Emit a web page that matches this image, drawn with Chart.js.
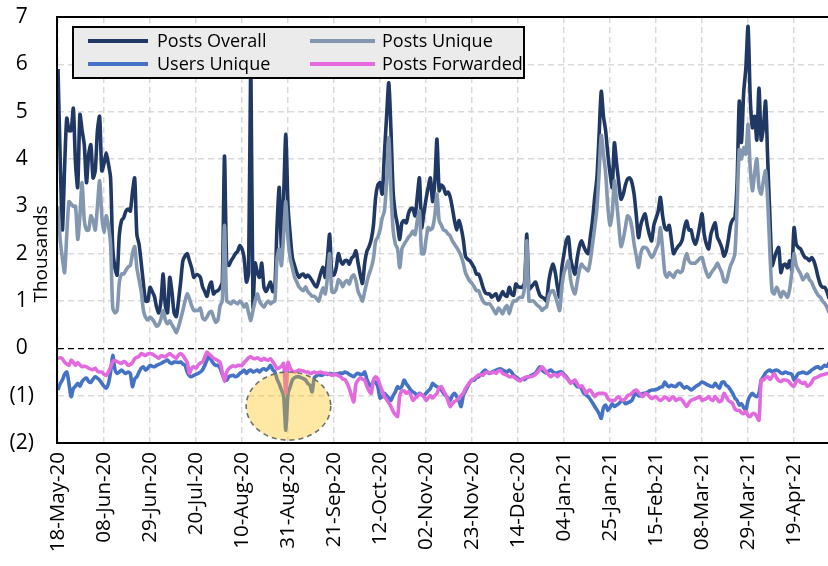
<!DOCTYPE html>
<html>
<head>
<meta charset="utf-8">
<script src="https://cdn.jsdelivr.net/npm/chart.js@4.4.1/dist/chart.umd.min.js"></script>
<style>
html,body{margin:0;padding:0;background:#fff;}
canvas{display:block;}
</style>
</head>
<body>
<canvas id="c" width="828" height="566"></canvas>
<script>
// ---- data (daily values, day 0 = 18-May-20), in thousands ----
const tickDays = [0,21,42,63,84,105,126,147,168,189,210,231,252,273,294,315,336];
const tickLabels = ['18-May-20','08-Jun-20','29-Jun-20','20-Jul-20','10-Aug-20','31-Aug-20','21-Sep-20','12-Oct-20','02-Nov-20','23-Nov-20','14-Dec-20','04-Jan-21','25-Jan-21','15-Feb-21','08-Mar-21','29-Mar-21','19-Apr-21'];
const yTickLabels = ['(2)','(1)','0','1','2','3','4','5','6','7'];
const seriesNames = ['Posts Overall','Posts Unique','Users Unique','Posts Forwarded'];

const postsOverall = [
5.9,4.0,2.5,3.8,4.86,4.6,4.6,5.07,3.9,3.4,
4.94,4.6,4.3,3.5,4.1,4.3,3.6,3.75,4.6,4.9,
3.75,3.9,4.13,3.9,3.6,2.1,1.7,1.55,2.4,2.7,
2.76,2.9,2.94,2.9,3.3,3.6,2.4,2.2,1.8,1.37,
1.0,1.0,1.29,1.2,1.1,0.87,0.75,1.0,1.57,0.9,
0.75,1.5,1.2,0.75,0.67,1.0,1.4,1.85,1.95,2.0,
1.85,1.7,1.5,1.55,1.55,1.5,1.3,1.2,1.1,1.3,
1.4,1.15,1.2,1.22,1.28,1.4,4.06,1.8,1.75,1.85,
1.92,2.0,2.05,2.17,2.1,1.9,1.4,1.6,6.2,0.87,
1.8,1.6,1.5,1.8,1.3,1.2,1.3,1.4,1.2,1.3,
2.6,3.4,2.1,3.2,4.52,3.0,2.4,1.92,1.75,1.6,
1.5,1.55,1.57,1.5,1.55,1.5,1.43,1.35,1.3,1.43,
1.6,1.71,1.5,1.9,2.41,1.55,1.55,1.7,2.0,1.85,
1.78,1.85,1.85,1.78,1.9,1.95,2.06,1.8,1.55,1.37,
1.8,2.05,2.15,2.3,2.6,3.19,3.45,3.5,3.26,4.1,
4.9,5.61,4.6,3.3,2.85,2.6,2.3,2.65,2.7,2.65,
2.85,2.95,2.95,2.8,3.2,3.6,2.55,2.85,3.15,3.4,
3.6,3.1,3.5,4.42,3.33,3.45,3.4,3.26,3.3,3.2,
2.97,2.7,2.5,2.7,2.55,2.3,1.95,1.88,1.85,1.78,
1.7,1.57,1.57,1.45,1.29,1.18,1.15,1.15,1.08,1.12,
1.15,1.02,1.1,1.2,1.12,1.1,1.29,1.15,1.12,1.36,
1.3,1.29,1.29,1.4,2.41,1.25,1.29,1.35,1.4,1.25,
1.12,1.08,1.05,1.0,1.4,1.65,1.78,1.6,1.3,1.08,
1.7,2.0,2.27,2.35,1.9,1.7,1.57,1.9,2.15,2.27,
2.15,2.05,2.0,2.35,2.7,3.19,3.6,4.5,5.43,4.9,
4.6,4.1,3.7,3.4,4.34,3.9,3.5,3.15,3.25,3.45,
3.58,3.6,3.5,3.25,2.8,2.34,2.6,2.75,2.84,2.6,
2.4,2.27,2.6,2.75,2.9,3.19,2.8,2.55,2.5,2.6,
2.3,2.0,2.08,2.15,2.2,2.3,2.55,2.69,2.5,2.5,
2.3,2.2,2.35,2.6,2.84,2.4,2.2,2.1,2.4,2.55,
2.65,2.35,2.25,2.13,1.95,2.05,2.3,2.6,2.72,2.76,
3.5,5.22,4.35,5.4,5.92,6.8,5.3,4.66,4.9,4.4,
5.5,4.4,4.66,5.22,3.96,2.76,1.75,1.9,2.05,2.13,
1.6,1.75,1.78,1.7,1.85,1.65,2.55,2.2,2.13,2.1,
2.0,1.92,1.9,1.85,1.92,1.85,1.7,1.5,1.35,1.29,
1.29,1.2,1.05
];

const postsUnique = [
3.0,2.3,1.9,1.6,2.4,3.1,3.05,3.0,3.0,2.3,
2.8,3.5,2.7,2.5,2.5,2.8,2.7,2.5,3.0,3.54,
2.8,2.45,2.8,2.6,2.2,0.85,0.75,0.8,1.4,1.57,
1.57,1.65,1.72,1.75,2.0,2.15,1.7,1.45,1.2,0.8,
0.65,0.6,0.66,0.62,0.55,0.47,0.5,0.62,0.8,0.6,
0.52,0.58,0.5,0.42,0.33,0.45,0.62,0.8,1.0,1.15,
1.05,0.9,0.8,0.8,0.8,0.85,0.65,0.6,0.66,0.75,
0.78,0.66,0.55,0.6,0.9,1.0,2.6,1.0,0.97,0.94,
1.0,0.97,0.94,1.0,0.95,0.87,0.94,0.75,0.59,0.8,
1.0,1.15,1.0,0.92,0.87,0.95,1.0,0.94,0.98,1.0,
1.9,2.1,1.75,2.4,3.1,2.3,1.9,1.7,1.5,1.4,
1.3,1.25,1.22,1.3,1.2,1.15,1.1,1.1,1.05,1.0,
1.15,1.28,1.15,1.5,2.0,1.2,1.18,1.25,1.45,1.4,
1.3,1.4,1.43,1.36,1.5,1.55,1.43,1.2,1.1,1.0,
1.2,1.4,1.57,1.7,1.9,2.27,2.35,2.5,2.75,2.9,
3.5,4.45,3.3,2.5,2.2,2.1,1.7,2.1,2.2,2.27,
2.35,2.4,2.48,2.4,2.7,2.9,2.0,2.0,2.3,2.55,
2.5,2.55,2.8,3.26,2.7,2.6,2.5,2.48,2.42,2.38,
2.27,2.2,2.13,2.05,1.95,1.8,1.6,1.5,1.42,1.37,
1.3,1.22,1.22,1.1,1.0,0.95,0.94,0.94,0.88,0.8,
0.73,0.85,0.8,0.73,0.85,0.9,0.73,0.9,1.0,1.0,
1.05,1.08,1.08,1.3,2.27,1.0,1.0,1.0,0.95,0.9,
0.87,0.8,0.85,0.87,1.1,1.2,1.22,1.1,0.95,0.8,
1.3,1.6,1.72,1.85,1.45,1.25,1.15,1.4,1.65,1.78,
1.72,1.68,1.64,1.85,2.2,2.55,2.95,3.7,4.5,4.1,
3.7,3.0,2.6,2.84,3.54,3.1,2.6,2.15,2.3,2.55,
2.8,2.75,2.55,2.2,1.95,1.71,2.0,2.13,2.13,2.1,
2.0,1.92,1.98,2.1,2.2,2.55,2.1,1.6,1.5,1.6,
1.55,1.5,1.6,1.64,1.6,1.64,1.85,2.0,1.85,1.8,
1.8,1.8,1.85,1.9,1.92,1.75,1.6,1.5,1.58,1.65,
1.71,1.8,1.7,1.6,1.42,1.4,1.57,1.75,1.85,2.0,
3.0,4.2,4.0,4.24,4.1,4.73,3.8,3.33,3.7,4.0,
3.4,3.26,3.54,3.75,3.1,2.0,1.2,1.15,1.29,1.2,
1.08,1.2,1.15,1.08,1.25,1.6,2.0,1.75,1.65,1.57,
1.45,1.5,1.57,1.45,1.4,1.29,1.2,1.12,1.08,1.0,
0.95,0.87,0.75
];

const usersUnique = [
-0.88,-0.75,-0.67,-0.55,-0.5,-0.74,-1.02,-0.85,-0.8,-0.74,
-0.8,-0.7,-0.65,-0.63,-0.7,-0.72,-0.65,-0.6,-0.63,-0.67,
-0.74,-0.8,-0.84,-0.75,-0.5,-0.15,-0.45,-0.53,-0.5,-0.46,
-0.5,-0.53,-0.5,-0.53,-0.81,-0.65,-0.6,-0.5,-0.42,-0.39,
-0.46,-0.42,-0.36,-0.38,-0.39,-0.36,-0.34,-0.32,-0.29,-0.27,
-0.25,-0.3,-0.32,-0.29,-0.29,-0.3,-0.29,-0.33,-0.36,-0.5,
-0.58,-0.6,-0.57,-0.55,-0.53,-0.5,-0.45,-0.36,-0.25,-0.15,
-0.25,-0.32,-0.36,-0.36,-0.42,-0.55,-0.65,-0.67,-0.6,-0.58,
-0.57,-0.6,-0.58,-0.53,-0.5,-0.46,-0.53,-0.48,-0.46,-0.5,
-0.48,-0.46,-0.5,-0.45,-0.43,-0.46,-0.42,-0.36,-0.45,-0.5,
-0.65,-0.75,-0.88,-1.0,-1.73,-0.95,-0.81,-0.67,-0.62,-0.6,
-0.6,-0.62,-0.64,-0.67,-0.74,-0.78,-0.92,-0.62,-0.58,-0.55,
-0.57,-0.56,-0.53,-0.55,-0.53,-0.54,-0.55,-0.54,-0.53,-0.52,
-0.53,-0.5,-0.52,-0.55,-0.58,-0.6,-0.55,-0.53,-0.55,-0.55,
-0.5,-0.65,-0.75,-0.81,-0.7,-0.72,-0.81,-1.05,-1.02,-0.95,
-1.0,-1.05,-1.1,-1.0,-0.92,-0.81,-0.85,-0.8,-0.67,-0.75,
-0.81,-0.88,-0.92,-0.95,-1.0,-0.95,-0.98,-1.0,-0.95,-0.9,
-0.85,-0.74,-0.78,-0.81,-0.85,-0.88,-0.95,-1.0,-1.05,-1.1,
-1.0,-0.95,-1.02,-1.1,-1.23,-1.0,-0.9,-0.81,-0.72,-0.67,
-0.67,-0.62,-0.6,-0.55,-0.5,-0.46,-0.5,-0.53,-0.5,-0.48,
-0.46,-0.44,-0.43,-0.46,-0.48,-0.5,-0.46,-0.5,-0.57,-0.6,
-0.64,-0.67,-0.65,-0.66,-0.62,-0.6,-0.57,-0.55,-0.52,-0.45,
-0.39,-0.46,-0.5,-0.52,-0.48,-0.46,-0.5,-0.52,-0.52,-0.5,
-0.5,-0.55,-0.6,-0.66,-0.72,-0.7,-0.75,-0.81,-0.81,-0.85,
-0.95,-0.98,-1.02,-1.08,-1.15,-1.23,-1.3,-1.38,-1.48,-1.25,
-1.2,-1.31,-1.25,-1.17,-1.23,-1.2,-1.17,-1.12,-1.1,-1.17,
-1.15,-1.13,-1.1,-1.0,-0.95,-1.0,-1.0,-0.95,-0.95,-0.93,
-0.9,-0.88,-0.88,-0.87,-0.85,-0.82,-0.81,-0.71,-0.78,-0.81,
-0.78,-0.8,-0.81,-0.76,-0.74,-0.8,-0.84,-0.81,-0.84,-0.88,
-0.85,-0.81,-0.78,-0.75,-0.71,-0.73,-0.76,-0.78,-0.8,-0.81,
-0.74,-0.8,-0.84,-0.72,-0.71,-0.78,-0.81,-0.88,-0.95,-1.05,
-1.1,-1.2,-1.17,-1.25,-1.31,-1.1,-1.0,-0.95,-1.0,-1.02,
-0.95,-0.67,-0.6,-0.52,-0.48,-0.46,-0.5,-0.47,-0.46,-0.48,
-0.52,-0.53,-0.5,-0.52,-0.53,-0.55,-0.67,-0.6,-0.53,-0.52,
-0.5,-0.52,-0.53,-0.5,-0.46,-0.43,-0.4,-0.39,-0.43,-0.4,
-0.36,-0.38,-0.3
];

const postsForwarded = [
-0.21,-0.2,-0.22,-0.29,-0.33,-0.36,-0.25,-0.3,-0.36,-0.3,
-0.35,-0.39,-0.38,-0.39,-0.42,-0.44,-0.45,-0.42,-0.48,-0.5,
-0.5,-0.55,-0.57,-0.5,-0.4,-0.28,-0.26,-0.28,-0.3,-0.32,
-0.28,-0.3,-0.36,-0.34,-0.3,-0.22,-0.19,-0.17,-0.11,-0.13,
-0.15,-0.12,-0.11,-0.12,-0.15,-0.18,-0.21,-0.16,-0.16,-0.18,
-0.14,-0.11,-0.15,-0.18,-0.21,-0.14,-0.11,-0.15,-0.22,-0.3,
-0.53,-0.42,-0.39,-0.42,-0.35,-0.31,-0.29,-0.18,-0.08,-0.12,
-0.16,-0.21,-0.23,-0.26,-0.3,-0.5,-0.7,-0.5,-0.43,-0.39,
-0.37,-0.39,-0.36,-0.36,-0.36,-0.3,-0.25,-0.2,-0.18,-0.21,
-0.22,-0.2,-0.23,-0.25,-0.21,-0.24,-0.25,-0.22,-0.28,-0.35,
-0.43,-0.41,-0.38,-0.32,-0.95,-0.3,-0.42,-0.48,-0.5,-0.48,
-0.46,-0.47,-0.48,-0.5,-0.5,-0.53,-0.52,-0.5,-0.52,-0.51,
-0.5,-0.52,-0.53,-0.53,-0.55,-0.57,-0.56,-0.55,-0.58,-0.6,
-0.65,-0.66,-0.74,-0.85,-1.0,-1.13,-0.75,-0.67,-0.62,-0.65,
-0.67,-0.8,-0.9,-0.95,-0.67,-0.6,-0.65,-0.78,-0.9,-1.02,
-1.08,-1.15,-1.23,-1.33,-1.4,-1.44,-1.0,-0.9,-0.9,-0.95,
-0.92,-0.98,-1.1,-1.05,-1.02,-0.97,-0.98,-1.02,-1.1,-1.05,
-1.0,-1.05,-1.0,-0.95,-0.83,-0.81,-0.9,-0.98,-1.1,-1.23,
-1.17,-1.12,-1.1,-1.05,-1.0,-0.95,-0.85,-0.78,-0.72,-0.67,
-0.64,-0.6,-0.56,-0.56,-0.57,-0.52,-0.5,-0.52,-0.52,-0.5,
-0.53,-0.48,-0.47,-0.53,-0.55,-0.57,-0.6,-0.6,-0.6,-0.64,
-0.67,-0.69,-0.65,-0.62,-0.6,-0.6,-0.6,-0.58,-0.55,-0.5,
-0.44,-0.39,-0.45,-0.5,-0.56,-0.6,-0.56,-0.55,-0.6,-0.55,
-0.53,-0.58,-0.62,-0.67,-0.74,-0.7,-0.67,-0.75,-0.81,-0.79,
-0.85,-0.95,-0.9,-0.88,-0.95,-1.02,-0.97,-0.95,-0.95,-0.95,
-0.97,-1.06,-1.1,-1.1,-1.1,-1.05,-1.02,-1.08,-1.1,-1.06,
-1.0,-0.98,-0.95,-0.9,-0.88,-0.93,-0.98,-1.02,-0.96,-0.97,
-1.02,-1.06,-1.04,-1.02,-1.07,-1.1,-1.07,-1.03,-1.05,-1.1,
-1.05,-1.03,-1.1,-1.08,-1.06,-1.1,-1.17,-1.23,-1.15,-1.1,
-1.08,-1.06,-1.04,-1.02,-1.1,-1.08,-1.06,-1.02,-1.08,-1.1,
-1.02,-1.08,-1.13,-1.1,-0.95,-1.02,-1.1,-1.13,-1.17,-1.28,
-1.31,-1.31,-1.36,-1.38,-1.33,-1.42,-1.44,-1.38,-1.38,-1.44,
-1.52,-0.67,-0.67,-0.62,-0.6,-0.66,-0.6,-0.53,-0.62,-0.68,
-0.7,-0.67,-0.67,-0.68,-0.72,-0.78,-0.8,-0.7,-0.67,-0.72,
-0.74,-0.72,-0.8,-0.78,-0.72,-0.64,-0.62,-0.6,-0.57,-0.56,
-0.55,-0.53,-0.53
];

// highlighted anomaly (ellipse), in data units
const highlight = { day: 105.2, value: -1.22, radiusDays: 19.3, radiusValue: 0.72 };

// ---- chart ----
Chart.defaults.font.family = "'Open Sans', sans-serif";
Chart.defaults.color = '#000';

const toPoints = arr => arr.map((v, i) => ({ x: i, y: v }));
const colors = ['#203864', '#8497b0', '#4472c4', '#e26ade'];
const seriesData = [postsOverall, postsUnique, usersUnique, postsForwarded];
const drawOrder = [3, 2, 1, 0];

const framePlugin = {
  id: 'frame',
  beforeDatasetsDraw(chart) {
    const { ctx, chartArea: a } = chart;
    ctx.save();
    ctx.strokeStyle = '#000';
    ctx.lineWidth = 2;
    ctx.beginPath();
    ctx.moveTo(a.right + 2, a.top);
    ctx.lineTo(a.left - 1, a.top);
    ctx.lineTo(a.left - 1, a.bottom);
    ctx.lineTo(a.right + 2, a.bottom);
    ctx.stroke();
    ctx.restore();
  }
};

const overlayPlugin = {
  id: 'overlay',
  afterDatasetsDraw(chart) {
    const { ctx, scales: { x, y } } = chart;
    // ellipse highlight
    const cx = x.getPixelForValue(highlight.day);
    const cy = y.getPixelForValue(highlight.value);
    const rx = x.getPixelForValue(highlight.day + highlight.radiusDays) - cx;
    const ry = y.getPixelForValue(highlight.value - highlight.radiusValue) - cy;
    ctx.save();
    ctx.beginPath();
    ctx.ellipse(cx, cy, rx, ry, 0, 0, Math.PI * 2);
    ctx.fillStyle = 'rgba(255,192,0,0.36)';
    ctx.fill();
    ctx.setLineDash([5, 4]);
    ctx.lineWidth = 1.6;
    ctx.strokeStyle = '#6e6e6e';
    ctx.stroke();
    ctx.restore();

    // legend box
    ctx.save();
    const box = { left: 73, top: 27, right: 524, bottom: 78 };
    ctx.fillStyle = '#ebebeb';
    ctx.fillRect(box.left, box.top, box.right - box.left, box.bottom - box.top);
    ctx.lineWidth = 2;
    ctx.strokeStyle = '#000';
    ctx.strokeRect(box.left, box.top, box.right - box.left, box.bottom - box.top);
    const slots = [
      { x0: 88, x1: 148, tx: 157, y: 41 },
      { x0: 310, x1: 375, tx: 382, y: 41 },
      { x0: 88, x1: 148, tx: 157, y: 64 },
      { x0: 310, x1: 375, tx: 382, y: 64 }
    ];
    ctx.font = "18px 'Open Sans', sans-serif";
    ctx.textBaseline = 'middle';
    ctx.textAlign = 'left';
    chart.data.datasets.forEach((ds, i) => {
      const s = slots[i];
      ctx.beginPath();
      ctx.strokeStyle = ds.borderColor;
      ctx.lineWidth = 4;
      ctx.moveTo(s.x0, s.y);
      ctx.lineTo(s.x1, s.y);
      ctx.stroke();
      ctx.fillStyle = '#000';
      ctx.fillText(ds.label, s.tx, s.y + 1);
    });
    ctx.restore();
  },
  afterDraw(chart) {
    const { ctx, chartArea: a } = chart;
    ctx.save();
    ctx.translate(42, (a.top + a.bottom) / 2 + 24);
    ctx.rotate(-Math.PI / 2);
    ctx.font = "19px 'Open Sans', sans-serif";
    ctx.fillStyle = '#000';
    ctx.textAlign = 'center';
    ctx.textBaseline = 'middle';
    ctx.fillText('Thousands', 0, 0);
    ctx.restore();
  }
};

new Chart(document.getElementById('c'), {
  type: 'line',
  data: {
    datasets: seriesNames.map((name, i) => ({
      label: name,
      data: toPoints(seriesData[i]),
      borderColor: colors[i],
      backgroundColor: colors[i],
      borderWidth: 3.6,
      pointRadius: 0,
      tension: 0.25,
      fill: false,
      order: drawOrder[i]
    }))
  },
  options: {
    responsive: false,
    animation: false,
    layout: { padding: { top: 17, right: 0, left: 0, bottom: 0 } },
    plugins: { legend: { display: false }, tooltip: { enabled: false } },
    scales: {
      x: {
        type: 'linear',
        min: 0,
        max: 351.5,
        afterBuildTicks: s => { s.ticks = tickDays.map(v => ({ value: v })); },
        afterFit: s => { s.height = 123; s.paddingLeft = 0; s.paddingRight = 0; },
        ticks: {
          autoSkip: false,
          maxRotation: 90,
          minRotation: 90,
          padding: 9,
          font: { size: 20.5 },
          callback: v => { const i = tickDays.indexOf(v); return i >= 0 ? tickLabels[i] : ''; }
        },
        grid: { color: '#d9d9d9', lineWidth: 1.5, drawTicks: false },
        border: { display: false, dash: [6, 4] }
      },
      y: {
        min: -2,
        max: 7,
        afterFit: s => { s.width = 58; s.paddingTop = 0; s.paddingBottom = 0; },
        ticks: {
          stepSize: 1,
          crossAlign: 'center',
          padding: 24,
          font: { size: 21 },
          callback: v => yTickLabels[Math.round(v) + 2]
        },
        grid: {
          color: c => (c.tick && c.tick.value === 0 ? '#000' : '#d9d9d9'),
          lineWidth: c => (c.tick && c.tick.value === 0 ? 1.2 : 1.5),
          drawTicks: false
        },
        border: { display: false, dash: [6, 4] }
      }
    }
  },
  plugins: [framePlugin, overlayPlugin]
});
</script>
</body>
</html>
